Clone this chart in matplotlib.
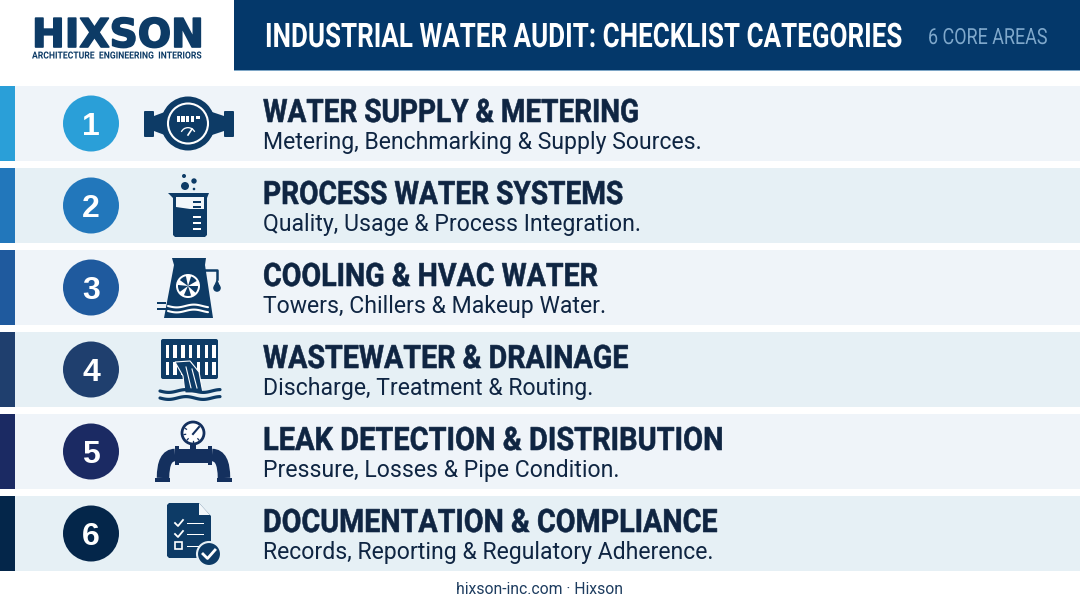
#!/usr/bin/python
# -*- coding: utf-8 -*-
import matplotlib
matplotlib.use('Agg')
import matplotlib.pyplot as plt
import matplotlib.patheffects as pe
from matplotlib.patches import Rectangle, Circle, FancyBboxPatch, Polygon, Wedge, PathPatch
from matplotlib.path import Path
from matplotlib.text import Text
from matplotlib.transforms import Affine2D, Bbox
import numpy as np

plt.rcParams['font.family'] = ['Roboto', 'DejaVu Sans']

NUMBERS = ['1', '2', '3', '4', '5', '6']
HEADINGS = ['WATER SUPPLY & METERING', 'PROCESS WATER SYSTEMS', 'COOLING & HVAC WATER',
            'WASTEWATER & DRAINAGE', 'LEAK DETECTION & DISTRIBUTION', 'DOCUMENTATION & COMPLIANCE']
SUBHEADINGS = ['Metering, Benchmarking & Supply Sources.', 'Quality, Usage & Process Integration.',
               'Towers, Chillers & Makeup Water.', 'Discharge, Treatment & Routing.',
               'Pressure, Losses & Pipe Condition.', 'Records, Reporting & Regulatory Adherence.']
HEADING_SQUEEZE = [0.869, 0.873, 0.887, 0.89, 0.90, 0.89]
CIRCLE_COLORS = ['#2a9fd8', '#2277bb', '#1f5a9e', '#1f3f6e', '#1b2a63', '#04264a']
ROW_COLORS = ['#eff4f9', '#e6f0f5', '#eff4f9', '#e6f0f5', '#eff4f9', '#e6f0f5']
ROW_TOPS = [86, 168, 250, 332, 414, 496]
ROW_H = 75
NAVY = '#0d3b66'
TEXT = '#0f2542'


class Squeeze(pe.AbstractPathEffect):
    '''draws the glyphs narrower, no condensed font is installed'''
    def __init__(self, k, stroke=0):
        super().__init__()
        self.k = k
        self.stroke = stroke

    def draw_path(self, renderer, gc, tpath, affine, rgbFace=None):
        gc0 = renderer.new_gc()
        gc0.copy_properties(gc)
        if self.stroke:
            gc0.set_linewidth(self.stroke)
            gc0.set_foreground(rgbFace)
        renderer.draw_path(gc0, tpath, Affine2D().scale(self.k, 1) + affine, rgbFace)
        gc0.restore()


class NarrowText(Text):
    def __init__(self, x, y, s, k, stroke=0, **kwargs):
        super().__init__(x, y, s, va='baseline', **kwargs)
        self.k = k
        self.set_path_effects([Squeeze(k, stroke)])

    def get_window_extent(self, renderer=None, dpi=None):
        bb = super().get_window_extent(renderer, dpi)
        return Bbox.from_extents(bb.x0, bb.y0, bb.x0 + bb.width * self.k, bb.y1)


def box(ax, x0, y0, x1, y1, c):
    ax.add_patch(Rectangle((x0, y0), x1 - x0, y1 - y0, fc=c, lw=0))


def wave(ax, x0, x1, y, c, lw):
    xs = np.linspace(x0, x1, 60)
    ax.plot(xs, y + 1.4 * np.sin((xs - x0) / 5.5), color=c, lw=lw, solid_capstyle='round')


def icon_meter(ax, c):
    for x0 in (144, 224):
        ax.add_patch(FancyBboxPatch((x0 + 1, 112), 8, 24, boxstyle='round,pad=1', fc=c, lw=0))
    ax.add_patch(Polygon([[154, 116], [170, 110], [206, 110], [224, 116], [224, 131], [206, 137], [170, 137],
                          [154, 131]], fc=c, lw=0))
    ax.add_patch(Circle((188, 123.5), 27, fc=c, lw=0))
    ax.add_patch(Circle((188, 123.5), 20, fc=c, ec='white', lw=1.5))
    for i in range(4):
        box(ax, 176.5 + i * 4.7, 115.5, 180 + i * 4.7, 121.5, 'white')
    box(ax, 196, 115.5, 200, 119, 'white')
    ax.add_patch(Wedge((188, 135), 8, 205, 335, width=1.3, fc='white', lw=0))
    ax.plot([188, 192], [135, 129], color='white', lw=1.2)


def icon_beaker(ax, c):
    for x, y, r in [(185, 186, 4), (194, 181, 2.7), (184, 176, 2), (194, 189, 1.3)]:
        ax.add_patch(Circle((x, y), r, fc=c, lw=0))
    ax.add_patch(Polygon([[168, 193], [209, 193], [207, 198], [207, 235], [205, 237], [175, 237],
                          [173, 235], [173, 198]], fc=c, lw=0))
    ax.add_patch(Polygon([[176, 197], [204, 197], [204, 209], [190, 209], [176, 207]], fc='#f2f7fa', lw=0))
    for y, col in [(201, c), (206, c), (216, 'white'), (222, 'white'), (228, 'white')]:
        box(ax, 193, y, 201, y + 1.8, col)


def icon_tower(ax, c):
    ax.add_patch(Polygon([[172, 258], [206, 258], [205, 265], [213, 318], [164, 318], [174, 265]], fc=c, lw=0))
    ax.add_patch(Circle((188, 286), 12, fc='white', lw=0))
    for a in range(0, 360, 72):
        ax.add_patch(Wedge((188, 286), 10, a, a + 42, fc=c, lw=0))
    wave(ax, 168, 208, 306, 'white', 1.5)
    wave(ax, 168, 208, 311, 'white', 1.5)
    ax.plot([203, 217, 217], [270, 270, 279], color=c, lw=1.8)
    ax.add_patch(Circle((217, 288), 3.8, fc=c, lw=0))
    ax.add_patch(Polygon([[214, 286], [220, 286], [217, 279]], fc=c, lw=0))
    box(ax, 157, 302, 166, 304, c)
    box(ax, 157, 308, 166, 310, c)


def icon_drain(ax, c):
    ax.add_patch(FancyBboxPatch((163, 341), 53, 36, boxstyle='round,pad=2', fc=c, lw=0))
    for i in range(7):
        x = 165.5 + i * 7.8
        box(ax, x, 345, x + 3.4, 358, 'white')
        box(ax, x, 362, x + 3.4, 375, 'white')
    ax.add_patch(Polygon([[175, 362], [190, 361], [199, 372], [203, 393], [185, 393], [183, 376]],
                         fc=c, ec='white', lw=0.8))
    ax.plot([186, 191], [367, 388], color='white', lw=0.8)
    ax.plot([192, 197], [369, 388], color='white', lw=0.8)
    wave(ax, 160, 220, 391, c, 2.3)
    wave(ax, 160, 220, 398, c, 2.3)


def icon_pipe(ax, c):
    ax.add_patch(Circle((193, 433), 11, fc='white', ec=c, lw=2))
    ax.plot([193, 199], [434, 427], color=c, lw=1.5)
    for a in np.deg2rad([150, 190, 230, 270, 310]):
        ax.plot([193 + 7.5 * np.cos(a), 193 + 9 * np.cos(a)], [433 - 7.5 * np.sin(a), 433 - 9 * np.sin(a)],
                color=c, lw=0.9)
    box(ax, 190, 444, 196, 450, c)
    box(ax, 178, 449, 208, 463, c)
    box(ax, 175, 446, 179, 465, c)
    box(ax, 208, 446, 212, 465, c)
    for x_in, x_out in [(175, 163), (212, 224)]:
        elbow = Path([(x_in, 455), (x_out, 455), (x_out, 478)], [Path.MOVETO, Path.CURVE3, Path.CURVE3])
        ax.add_patch(PathPatch(elbow, fc='none', ec=c, lw=9, capstyle='butt'))
    box(ax, 155, 478, 170, 482, c)
    box(ax, 217, 478, 232, 482, c)


def icon_doc(ax, c):
    ax.add_patch(Polygon([[169, 503], [199, 503], [211, 516], [211, 558], [169, 558], [167, 556], [167, 505]],
                         fc=c, lw=0))
    ax.add_patch(Polygon([[199, 503], [210, 515], [199, 515]], fc='#f2f7fa', lw=0))
    for y in (523, 534):
        ax.plot([175, 178, 183], [y, y + 3, y - 3], color='white', lw=1.3)
    ax.add_patch(Rectangle((175, 542), 7, 7, fc='none', ec='white', lw=1.2))
    for y in (523, 534, 546):
        box(ax, 187, y, 204, y + 1.4, 'white')
    ax.add_patch(Circle((209, 554), 12, fc=c, ec='#e6f0f5', lw=1.5))
    ax.plot([203, 207.5, 215], [554, 558.5, 550], color='white', lw=2)


ICONS = [icon_meter, icon_beaker, icon_tower, icon_drain, icon_pipe, icon_doc]
ICON_COLORS = [NAVY, NAVY, NAVY, NAVY, '#14305e', NAVY]


def main():
    fig = plt.figure(figsize=(10.8, 6.03), dpi=100)
    ax = fig.add_axes([0, 0, 1, 1])
    ax.set_xlim(0, 1080)
    ax.set_ylim(603, 0)
    ax.axis('off')

    # header
    box(ax, 234, 0, 1080, 70, '#04386a')
    box(ax, 234, 70, 1080, 71, '#7ea6c6')
    ax.add_artist(NarrowText(265, 47, 'INDUSTRIAL WATER AUDIT: CHECKLIST CATEGORIES', 0.771, color='white',
                             fontsize=24.3, fontweight='bold'))
    ax.add_artist(NarrowText(928, 44, '6 CORE AREAS', 0.807, color='#7fa8cb', fontsize=16))

    # logo
    ax.add_artist(NarrowText(32, 47, 'HIXSON', 0.99, stroke=1.2, color=NAVY, fontsize=28.5, fontweight='bold',
                             family=['DejaVu Sans']))
    ax.add_artist(NarrowText(32, 58.5, 'ARCHITECTURE  ENGINEERING  INTERIORS', 0.885, color=NAVY, fontsize=7,
                             fontweight='bold'))

    for i, top in enumerate(ROW_TOPS):
        cy = top + ROW_H / 2
        box(ax, 15, top, 1080, top + ROW_H, ROW_COLORS[i])
        box(ax, 0, top, 15, top + ROW_H, CIRCLE_COLORS[i])
        ax.add_patch(Circle((91, cy), 28, fc=CIRCLE_COLORS[i], lw=0))
        ax.text(91, cy + 11.5, NUMBERS[i], color='white', fontsize=23, fontweight='bold', ha='center',
                va='baseline', family=['Liberation Sans'])
        ICONS[i](ax, ICON_COLORS[i])
        ax.add_artist(NarrowText(263, top + 36, HEADINGS[i], HEADING_SQUEEZE[i], stroke=0.4, color=TEXT,
                                 fontsize=23.2, fontweight='bold'))
        ax.text(263, top + 63.5, SUBHEADINGS[i], color=TEXT, fontsize=16.6, va='baseline')

    ax.text(540, 589, 'hixson-inc.com · Hixson', color='#1d3c5f', fontsize=11.3, ha='center', va='center')
    fig.savefig('out.png', dpi=100)
    plt.close(fig)


if __name__ == '__main__':
    main()
